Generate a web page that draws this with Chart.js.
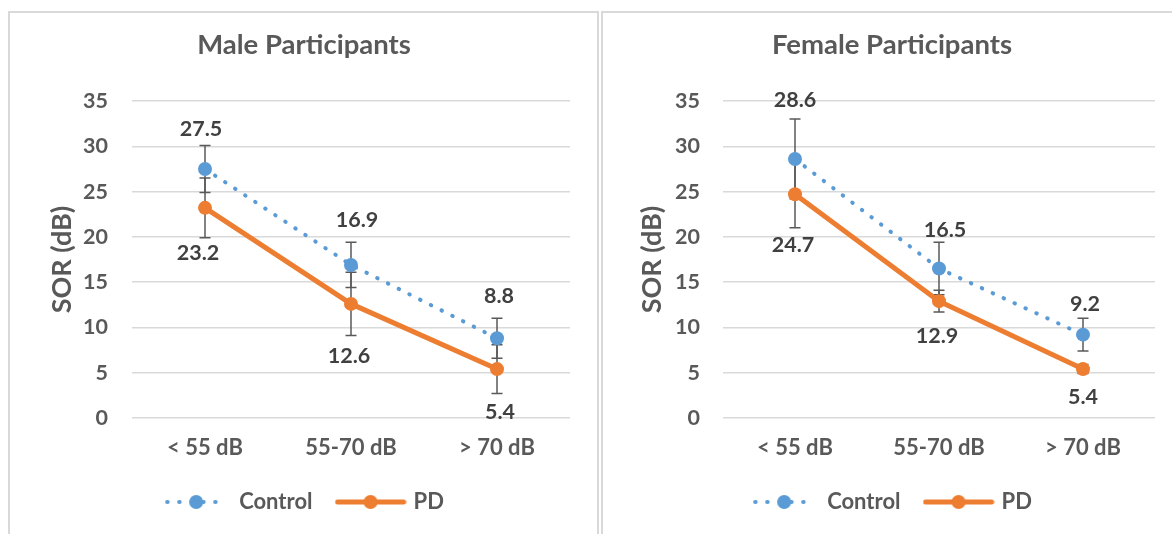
<!DOCTYPE html>
<html>
<head>
<meta charset="utf-8">
<script src="https://cdn.jsdelivr.net/npm/chart.js@4.4.1/dist/chart.umd.min.js"></script>
<style>
  html, body { margin: 0; padding: 0; background: #fff; overflow: hidden; }
  body { width: 1172px; height: 534px; position: relative; }
  .box { position: absolute; top: 11px; height: 600px; border: 2px solid #d9d9d9; background: #fff; }
  #boxMale { left: 8px; width: 587px; }
  #boxFemale { left: 601px; width: 588px; }
  .box canvas { display: block; }
</style>
</head>
<body>
<div class="box" id="boxMale"><canvas id="male" width="587" height="521" style="width:587px;height:521px"></canvas></div>
<div class="box" id="boxFemale"><canvas id="female" width="588" height="521" style="width:588px;height:521px"></canvas></div>
<script>
// data
const categories = ['< 55 dB', '55-70 dB', '> 70 dB'];
const yTicks = [0, 5, 10, 15, 20, 25, 30, 35];

const maleControl = [27.5, 16.9, 8.8];
const maleControlErr = [2.6, 2.5, 2.2];
const malePD = [23.2, 12.6, 5.4];
const malePDErr = [3.3, 3.5, 2.7];

const femaleControl = [28.6, 16.5, 9.2];
const femaleControlErr = [4.4, 2.9, 1.8];
const femalePD = [24.7, 12.9, 5.4];
const femalePDErr = [3.7, 1.2, 0.5];

// where the value labels sit relative to their point (px)
const maleShift = {
  control: [[-4, -40], [6, -45], [2, -42]],
  pd: [[-7, 45], [-2, 52], [3, 43]]
};
const femaleShift = {
  control: [[0, -59], [6, -38], [2, -31]],
  pd: [[-2, 51], [-2, 35], [0, 28]]
};

const BLUE = '#5B9BD5';
const ORANGE = '#ED7D31';
const TEXT = '#595959';

Chart.defaults.font.family = 'Lato, sans-serif';

function legendIcon(color, dotted, w) {
  const c = document.createElement('canvas');
  c.width = w; c.height = 16;
  const g = c.getContext('2d');
  g.strokeStyle = color;
  g.fillStyle = color;
  g.lineCap = 'round';
  g.lineWidth = dotted ? 4 : 5;
  if (dotted) g.setLineDash([0.5, 11.5]);
  g.beginPath();
  g.moveTo(3, 8);
  g.lineTo(w - 3, 8);
  g.stroke();
  g.beginPath();
  g.arc(w / 2, 8, 7, 0, Math.PI * 2);
  g.fill();
  return c;
}
const legendIcons = [legendIcon(BLUE, true, 64), legendIcon(ORANGE, false, 72)];

const errorBars = {
  id: 'errorBars',
  beforeDatasetsDraw(chart) {
    const ctx = chart.ctx;
    const y = chart.scales.y;
    ctx.save();
    ctx.strokeStyle = TEXT;
    ctx.lineWidth = 1.5;
    chart.data.datasets.forEach((ds, i) => {
      chart.getDatasetMeta(i).data.forEach((pt, j) => {
        const top = y.getPixelForValue(ds.data[j] + ds.errors[j]);
        const bot = y.getPixelForValue(ds.data[j] - ds.errors[j]);
        ctx.beginPath();
        ctx.moveTo(pt.x, top); ctx.lineTo(pt.x, bot);
        ctx.moveTo(pt.x - 5.5, top); ctx.lineTo(pt.x + 5.5, top);
        ctx.moveTo(pt.x - 5.5, bot); ctx.lineTo(pt.x + 5.5, bot);
        ctx.stroke();
      });
    });
    ctx.restore();
  }
};

const valueLabels = {
  id: 'valueLabels',
  afterDatasetsDraw(chart) {
    const ctx = chart.ctx;
    ctx.save();
    ctx.font = 'bold 21.5px Lato, sans-serif';
    ctx.fillStyle = '#404040';
    ctx.textAlign = 'center';
    ctx.textBaseline = 'middle';
    chart.data.datasets.forEach((ds, i) => {
      chart.getDatasetMeta(i).data.forEach((pt, j) => {
        const s = ds.labelShift[j];
        ctx.fillText(ds.data[j].toFixed(1), pt.x + s[0], pt.y + s[1]);
      });
    });
    ctx.restore();
  }
};

function drawPanel(id, title, control, controlErr, pd, pdErr, shift, geo) {
  return new Chart(document.getElementById(id), {
    type: 'line',
    data: {
      labels: categories,
      datasets: [
        {
          label: 'Control',
          data: control,
          errors: controlErr,
          labelShift: shift.control,
          borderColor: BLUE,
          backgroundColor: BLUE,
          borderWidth: 4,
          borderDash: [0.5, 11.5],
          borderCapStyle: 'round',
          pointRadius: 7,
          pointBorderWidth: 0,
          pointBackgroundColor: BLUE
        },
        {
          label: 'PD',
          data: pd,
          errors: pdErr,
          labelShift: shift.pd,
          borderColor: ORANGE,
          backgroundColor: ORANGE,
          borderWidth: 5,
          borderCapStyle: 'round',
          borderJoinStyle: 'round',
          pointRadius: 7,
          pointBorderWidth: 0,
          pointBackgroundColor: ORANGE
        }
      ]
    },
    options: {
      responsive: false,
      animation: false,
      events: [],
      layout: { padding: { left: geo.left, right: geo.right, top: 0, bottom: 11 } },
      plugins: {
        tooltip: { enabled: false },
        title: {
          display: true,
          text: title,
          color: TEXT,
          font: { size: 27.5, weight: 'bold' },
          padding: { top: 16, bottom: 39 }
        },
        legend: {
          position: 'bottom',
          labels: {
            usePointStyle: true,
            pointStyleWidth: 64,
            padding: 26,
            color: TEXT,
            font: { size: 22, weight: 'bold' },
            generateLabels(chart) {
              const items = Chart.defaults.plugins.legend.labels.generateLabels(chart);
              items.forEach((it, k) => { it.pointStyle = legendIcons[k]; });
              return items;
            }
          }
        }
      },
      scales: {
        x: {
          offset: true,
          grid: { display: false, drawTicks: false },
          border: { display: false },
          ticks: { color: TEXT, font: { size: 22, weight: 'bold' }, padding: 17 },
          afterFit(s) { s.height = 47; }
        },
        y: {
          min: 0,
          max: 35,
          afterBuildTicks(s) { s.ticks = yTicks.map(v => ({ value: v })); },
          ticks: { color: TEXT, font: { size: 21.5, weight: 'bold' }, padding: geo.tickPad },
          grid: { color: '#d9d9d9', lineWidth: 1.5, drawTicks: false },
          border: { display: false },
          title: {
            display: true,
            text: 'SOR (dB)',
            color: TEXT,
            font: { size: 27, weight: 'bold' },
            padding: { top: geo.titlePad, bottom: 0 }
          },
          afterFit(s) { s.width = geo.yWidth; }
        }
      }
    },
    plugins: [errorBars, valueLabels]
  });
}

drawPanel('male', 'Male Participants',
  maleControl, maleControlErr, malePD, malePDErr, maleShift,
  { left: 28, right: 27, yWidth: 94, tickPad: 24, titlePad: 8.3 });

drawPanel('female', 'Female Participants',
  femaleControl, femaleControlErr, femalePD, femalePDErr, femaleShift,
  { left: 26, right: 36, yWidth: 94, tickPad: 23, titlePad: 7.3 });
</script>
</body>
</html>
